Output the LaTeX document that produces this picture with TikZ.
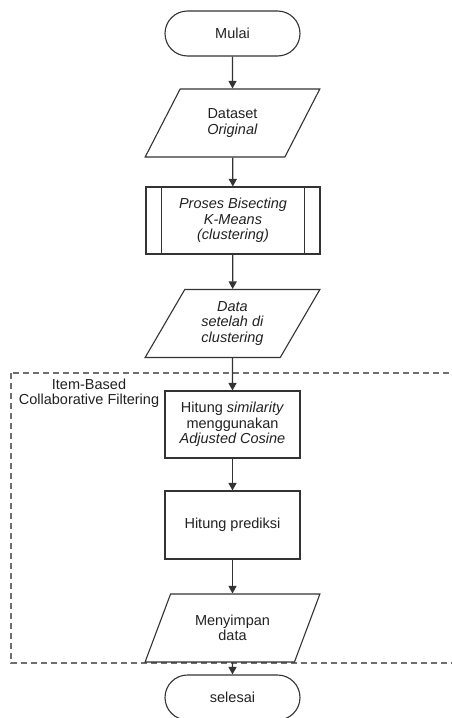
\documentclass[tikz,border=0pt]{standalone}
\usepackage{fontspec}
\setmainfont{Liberation Sans}
\usetikzlibrary{shapes.geometric,shapes.misc,arrows.meta}
\definecolor{edgecol}{HTML}{333333}
\definecolor{dashcol}{HTML}{6E6E6E}
\definecolor{txtcol}{HTML}{222222}
\tikzset{
  base/.style={draw=edgecol, line width=1.1pt, text=txtcol, align=center,
    font=\fontsize{14.5}{15.5}\selectfont, inner sep=0pt},
  terminal/.style={base, rounded rectangle, minimum width=135pt, minimum height=45pt},
  io/.style={base, trapezium, trapezium left angle=59.5, trapezium right angle=120.5,
    trapezium stretches=true, minimum width=175pt, minimum height=68pt},
  procbox/.style={base, rectangle, minimum width=135pt, minimum height=67pt},
  predef/.style={base, rectangle, minimum width=174pt, minimum height=67pt},
  flow/.style={draw=edgecol, line width=1.2pt, -{Triangle[length=7.5pt,width=8pt]}},
  groupbox/.style={draw=dashcol, line width=1.2pt, dash pattern=on 6pt off 4pt},
}
\begin{document}
\begin{tikzpicture}[x=1pt,y=-1pt]
\clip (0,0) rectangle (452,718);
\fill[white] (0,0) rectangle (452,718);

\draw[groupbox] (11,373) rectangle (470,663);
\node[text=txtcol, align=center, font=\fontsize{14.5}{15.5}\selectfont, inner sep=0pt]
  (grouplabel) at (89,393) {Item-Based\\Collaborative Filtering};

\node[terminal] (mulai) at (232.5,33.5) {Mulai};
\node[io] (dataset) at (232.5,123) {Dataset\\\textit{Original}};
\node[predef] (proses) at (233,220.5) {\textit{Proses Bisecting}\\\textit{K-Means}\\\textit{(clustering)}};
\draw[edgecol, line width=1.1pt] ([xshift=16pt]proses.north west) -- ([xshift=16pt]proses.south west);
\draw[edgecol, line width=1.1pt] ([xshift=-16pt]proses.north east) -- ([xshift=-16pt]proses.south east);
\node[io] (data) at (232.5,323.5) {\textit{Data}\\\textit{setelah di}\\\textit{clustering}};
\node[procbox] (sim) at (232.5,424.5) {Hitung \textit{similarity}\\menggunakan\\\textit{Adjusted Cosine}};
\node[procbox, minimum height=68pt] (pred) at (232.5,525) {Hitung prediksi};
\node[io] (simpan) at (232.5,628) {Menyimpan\\data};
\node[terminal] (selesai) at (232.5,697.5) {selesai};

\draw[flow] (mulai) -- (dataset);
\draw[flow] (dataset) -- (proses);
\draw[flow] (proses) -- (data);
\draw[flow] (data) -- (sim);
\draw[flow] (sim) -- (pred);
\draw[flow] (pred) -- (simpan);
\draw[flow] (simpan) -- (selesai);
\end{tikzpicture}
\end{document}
